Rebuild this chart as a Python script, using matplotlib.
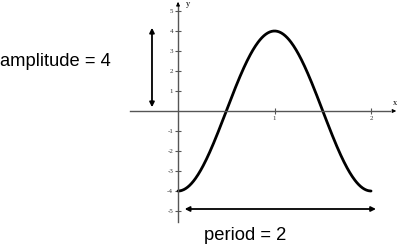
import numpy as np
import matplotlib
matplotlib.use("Agg")
import matplotlib.pyplot as plt

# curve: y = -amplitude * cos(2*pi*x/period)
amplitude = 4
period = 2
y_ticks = [-5, -4, -3, -2, -1, 1, 2, 3, 4, 5]
x_ticks = [1, 2]

x = np.linspace(0, period, 300)
y = -amplitude * np.cos(2 * np.pi * x / period)

fig = plt.figure(figsize=(4, 2.45), dpi=100)
ax = fig.add_axes([0, 0, 1, 1])
ax.set_xlim(-1.845, 2.30)
ax.set_ylim(-6.7, 5.55)

ax.plot(x, y, color="black", lw=2.0, solid_capstyle="round")

# axes through the origin
axis_col = "#555555"
for s in ["top", "right"]:
    ax.spines[s].set_visible(False)
ax.spines["left"].set_position(("data", 0))
ax.spines["bottom"].set_position(("data", 0))
ax.spines["left"].set_bounds(-5.55, 5.3)
ax.spines["bottom"].set_bounds(-0.5, 2.2)
for s in ["left", "bottom"]:
    ax.spines[s].set_color(axis_col)
    ax.spines[s].set_linewidth(1.0)
ax.annotate("", xy=(0, 5.45), xytext=(0, 5.2),
            arrowprops=dict(arrowstyle="-|>", color="black", lw=0.8, mutation_scale=5))
ax.annotate("", xy=(2.29, 0), xytext=(2.2, 0),
            arrowprops=dict(arrowstyle="-|>", color="black", lw=0.8, mutation_scale=5))

ax.set_yticks(y_ticks)
ax.set_xticks(x_ticks)
ax.set_yticklabels([str(t) for t in y_ticks])
ax.set_xticklabels([str(t) for t in x_ticks])
ax.tick_params(direction="inout", length=5, width=0.8, color=axis_col,
               labelsize=5, pad=1)
for lab in ax.get_xticklabels() + ax.get_yticklabels():
    lab.set_family("Liberation Serif")
    lab.set_color("#333333")

ax.text(0.08, 5.35, "y", fontsize=6, family="Liberation Serif", ha="left", va="center")
ax.text(2.25, 0.38, "x", fontsize=6, family="Liberation Serif", ha="center", va="center")

# amplitude arrow
ax.annotate("", xy=(-0.27, 4.3), xytext=(-0.27, 0.05),
            arrowprops=dict(arrowstyle="<|-|>", color="black", lw=1.3, mutation_scale=7))
ax.text(-1.845, 2.45, "amplitude = %d" % amplitude, fontsize=13.2,
        family="Liberation Sans", ha="left", va="center")

# period arrow
ax.annotate("", xy=(0.04, -4.9), xytext=(2.08, -4.9),
            arrowprops=dict(arrowstyle="<|-|>", color="black", lw=1.3, mutation_scale=7))
ax.text(0.694, -6.25, "period = %d" % period, fontsize=13.2,
        family="Liberation Sans", ha="center", va="center")

fig.savefig("out.png", dpi=100)
